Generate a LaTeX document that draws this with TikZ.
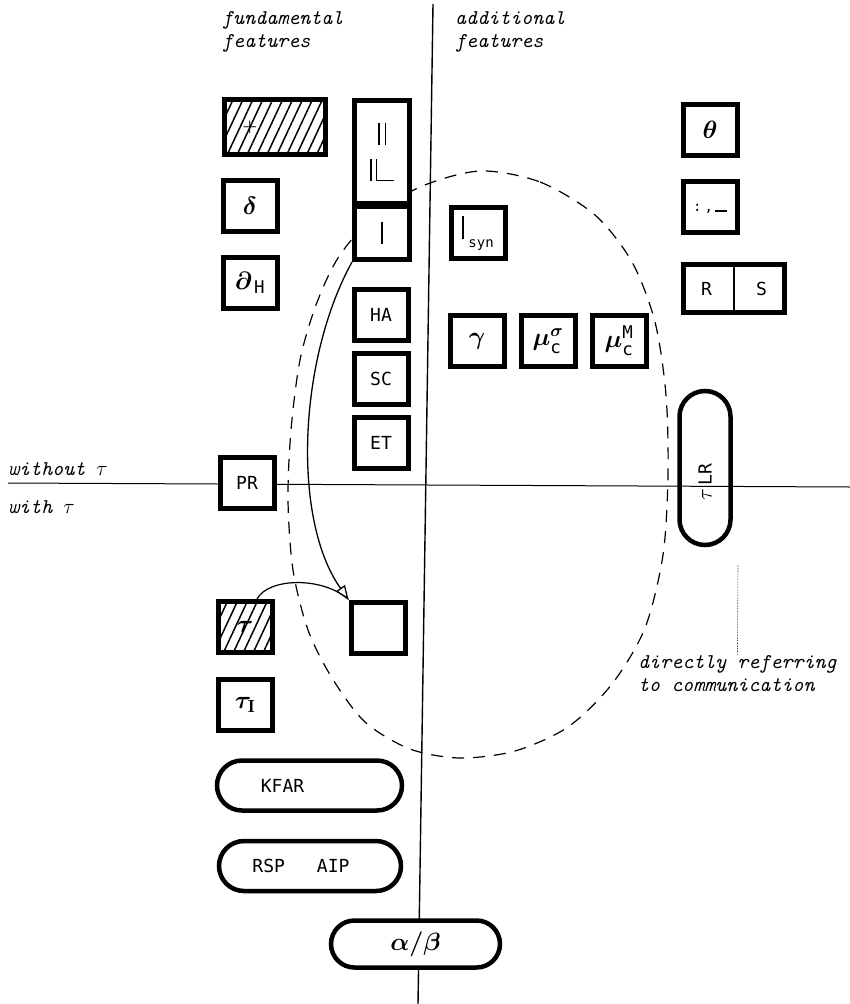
\documentclass[tikz,border=0pt]{standalone}
\usepackage{fix-cm}
\usepackage{amsmath}
\usepackage{fontspec}
\usetikzlibrary{arrows.meta,positioning,shapes.misc,patterns.meta}
\newfontfamily\gothic{DejaVu Sans Mono}
\newcommand{\symsize}{\fontsize{25}{27}\selectfont\boldmath}
\newcommand{\tagsize}{\gothic\fontsize{18}{20}\selectfont}
\newcommand{\typed}{\ttfamily\itshape\fontsize{21}{23}\selectfont}
\newcommand{\mergebars}{\rule{1.2pt}{22pt}\hspace{5pt}\rule{1.2pt}{22pt}}
\newcommand{\lmergebars}{\rule{1.2pt}{22pt}\hspace{4pt}\rule{1.2pt}{22pt}\rule{17pt}{1.2pt}}

\begin{document}
\begin{tikzpicture}[x=1pt, y=1pt,
  featbox/.style={draw, line width=5pt, fill=white, minimum width=54pt, minimum height=51pt, inner sep=0pt, font=\symsize},
  hatchbox/.style={featbox, pattern={Lines[angle=65,distance=9pt,line width=1.5pt]}},
  rulepill/.style={draw, rounded rectangle, line width=4.5pt, fill=white, minimum height=50pt, inner sep=0pt, font=\tagsize},
  typed/.style={font=\typed, inner sep=0pt, align=left}]

  \useasboundingbox (0,0) rectangle (850,-1004);

  % communication region
  \draw[line width=1.2pt, dash pattern=on 12pt off 9pt] plot[smooth cycle] coordinates {
    (480,-171) (540,-182) (595,-215) (632,-262) (655,-322) (666,-395) (668,-475)
    (663,-555) (645,-628) (612,-684) (568,-727) (515,-751) (460,-758) (410,-749)
    (365,-722) (332,-678) (308,-630) (293,-570) (288,-500) (291,-430) (300,-360)
    (316,-305) (338,-258) (372,-218) (420,-187)};

  \draw[line width=1.4pt] (433,-4) -- (418,-1004);
  \draw[line width=1pt] (8,-483) -- (850,-487);

  \node[typed, anchor=north west] (fund) at (222,-11) {fundamental\\features};
  \node[typed, anchor=north west] (addl) at (455,-11) {additional\\features};
  \node[typed, anchor=base west] (without) at (8,-475) {without $\tau$};
  \node[typed, anchor=base west] (with) at (8,-513) {with $\tau$};

  \node[hatchbox, minimum width=101pt, minimum height=55pt] (plus) at (275,-127) {};
  \node[font=\fontsize{17}{17}\selectfont\boldmath] (plussign) at ([xshift=26pt]plus.west) {$+$};
  \node[featbox] (delta) at (250,-206) {$\delta$};
  \node[featbox, below=21pt of delta] (encap) {$\partial_{\,\text{\gothic H}}$};
  \node[featbox, font=\tagsize] (pr) at (247,-483) {PR};
  \node[hatchbox] (tau) at (245,-627) {$\tau$};
  \node[featbox, below=22pt of tau] (abstr) {$\tau_{\mathrm{I}}$};

  \node[featbox, align=center, minimum width=55pt, minimum height=103pt] (merge) at (382,-152) {\mergebars\\[9pt]\lmergebars};
  \node[featbox, minimum width=55pt, minimum height=53pt, below=-2pt of merge] (cmerge) {\rule{1.2pt}{22pt}};
  \node[featbox, font=\tagsize] (ha) at (381,-315) {HA};
  \node[featbox, font=\tagsize, below=8pt of ha] (sc) {SC};
  \node[featbox, font=\tagsize, below=8pt of sc] (et) {ET};
  \node[featbox] (blank) at (378,-627.5) {};

  \node[featbox] (sync) at (478,-233) {\rule{2pt}{23pt}\,\raisebox{-8pt}{\gothic\fontsize{14}{14}\selectfont syn}};
  \node[featbox] (gam) at (477,-341) {$\gamma$};
  \node[featbox, right=12pt of gam] (mus) {$\mu_{\text{\gothic c}}^{\sigma}$};
  \node[featbox, right=12pt of mus] (mum) {$\mu_{\text{\gothic c}}^{\text{\gothic M}}$};

  \node[featbox] (theta) at (710,-130) {$\theta$};
  \node[featbox, below=21pt of theta] (seq) {\raisebox{-10pt}{\gothic\fontsize{14}{14}\selectfont :\hspace{3pt},\hspace{2pt}\rule[-1pt]{12pt}{2pt}}};
  \node[featbox, font=\tagsize, minimum width=101pt, minimum height=48pt] (rs) at (734,-288.5) {R\hspace{44pt}S};
  \draw[line width=1.2pt] (rs.north) -- (rs.south);
  \node[rulepill, rotate=90, fill=none, minimum width=154pt, minimum height=51pt] (taulr) at (705,-468) {{\fontsize{22}{22}\selectfont$\tau$}\,LR\hspace*{28pt}};

  \node[rulepill, minimum width=185pt] (kfar) at (309.5,-785.5) {KFAR\hspace*{54pt}};
  \node[rulepill, minimum width=182pt] (rspaip) at (310,-866) {RSP\hspace{32pt}AIP\hspace*{18pt}};
  \node[rulepill, font=\symsize, minimum width=169pt, minimum height=47pt] (ab) at (415.5,-944) {$\alpha/\beta$};

  \node[typed, anchor=north west] (commlabel) at (638,-655) {directly referring\\to communication};
  \coordinate (leader) at (738,-565);
  \draw[line width=0.6pt, densely dotted] (commlabel.north) -- (leader);

  \draw[line width=1.2pt] ([xshift=12pt]tau.north) .. controls (268,-578) and (322,-576) .. (blank.north west);
  \draw[line width=1.3pt, -{Triangle[fill=white, length=14pt, width=11pt]}] (cmerge.south west) .. controls (298,-360) and (292,-520) .. (blank.north west);
\end{tikzpicture}
\end{document}
